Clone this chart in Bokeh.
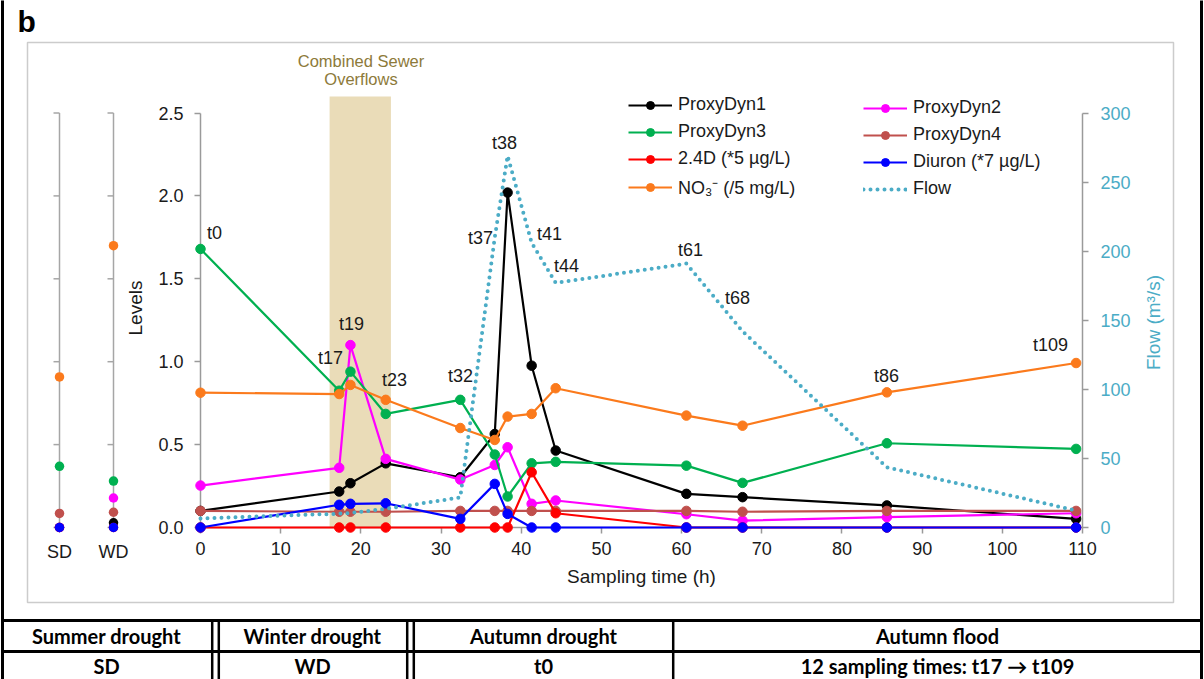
import math
from bokeh.plotting import figure
from bokeh.models import (Range1d, LinearAxis, FixedTicker, NumeralTickFormatter,
                          Legend, LegendItem, BoxAnnotation)
from bokeh.core.properties import value
from bokeh.embed import file_html
from bokeh.resources import INLINE

# ---------------- data ----------------
times = [0, 17.3, 18.7, 23.1, 32.4, 36.7, 38.3, 41.3, 44.3, 60.6, 67.6, 85.6, 109.2]
time_labels = ["t0", "t17", "t19", "t23", "t32", "t37", "t38", "t41", "t44", "t61", "t68", "t86", "t109"]
proxydyn1 = [0.10, 0.217, 0.267, 0.387, 0.303, 0.564, 2.02, 0.976, 0.464, 0.203, 0.183, 0.133, 0.052]
proxydyn2 = [0.253, 0.36, 1.10, 0.414, 0.289, 0.377, 0.484, 0.143, 0.163, 0.08, 0.042, 0.062, 0.086]
proxydyn3 = [1.68, 0.825, 0.94, 0.685, 0.77, 0.44, 0.187, 0.387, 0.396, 0.373, 0.269, 0.508, 0.474]
proxydyn4 = [0.10, 0.095, 0.095, 0.095, 0.10, 0.10, 0.10, 0.10, 0.10, 0.10, 0.095, 0.10, 0.10]
d24 = [0, 0, 0, 0, 0, 0, 0, 0.333, 0.086, 0, 0, 0, 0]
diuron = [0, 0.137, 0.143, 0.146, 0.052, 0.263, 0.082, 0, 0, 0, 0, 0, 0]
no3 = [0.813, 0.805, 0.86, 0.77, 0.60, 0.528, 0.669, 0.685, 0.84, 0.675, 0.614, 0.815, 0.992]
flow = [6.5, 10, 10.5, 13.5, 21.7, 210, 269, 206, 177, 191, 142, 43.6, 12.3]

drought_labels = ["SD", "WD"]
proxydyn1_drought = [0.0, 0.028]
proxydyn2_drought = [0.0, 0.178]
proxydyn3_drought = [0.369, 0.28]
proxydyn4_drought = [0.085, 0.092]
d24_drought = [0.0, 0.0]
diuron_drought = [0.0, 0.0]
no3_drought = [0.908, 1.70]

cso_period = [16.1, 23.75]
level_ticks = [0, 0.5, 1.0, 1.5, 2.0, 2.5]
flow_ticks = [0, 50, 100, 150, 200, 250, 300]
time_ticks = [0, 10, 20, 30, 40, 50, 60, 70, 80, 90, 100, 110]

table_header = ["Summer drought", "Winter drought", "Autumn drought", "Autumn flood"]
table_row = ["SD", "WD", "t0", "12 sampling times: t17 \u2192 t109"]

# ---------------- layout (page pixels) ----------------
W, H = 1204, 679
FL, FR, FT, FB = 200, 1082, 88, 527
LEVEL_TOP_PX = 112.5
PX_PER_LEVEL = (FB - LEVEL_TOP_PX) / 2.5
y_end = (FB - FT) / PX_PER_LEVEL
band_top = (FB - 96) / PX_PER_LEVEL
flow_end = 300 * y_end / 2.5
SD_PX, WD_PX = 59, 113
dpx = WD_PX - SD_PX

FONT = "Liberation Sans"
TFONT = "Lato"
AX_COL = "#9a9a9a"
FLOW_COL = "#4bacc6"
TXT = "#1a1a1a"

p = figure(width=W, height=H, x_range=Range1d(0, 110), y_range=Range1d(0, y_end),
           x_axis_type=None, y_axis_type=None, output_backend="svg",
           toolbar_location=None, title=None,
           min_border_left=FL, min_border_right=W - FR,
           min_border_top=FT, min_border_bottom=H - FB)
p.outline_line_color = None
p.grid.visible = False
p.background_fill_color = "white"
p.border_fill_color = "white"

p.extra_y_ranges = {"flow": Range1d(0, flow_end), "py": Range1d(FB, FT)}
p.extra_x_ranges = {"px": Range1d(FL, FR),
                    "drought": Range1d((FL - SD_PX) / dpx, (FR - SD_PX) / dpx)}


def style_axis(ax, label_color=TXT, std=10, lstd=10):
    ax.axis_line_color = AX_COL
    ax.axis_line_width = 1.5
    ax.major_tick_line_color = AX_COL
    ax.major_tick_line_width = 1.5
    ax.major_tick_out = 6
    ax.major_tick_in = 0
    ax.minor_tick_line_color = None
    ax.major_label_text_font = FONT
    ax.major_label_text_font_size = "18px"
    ax.major_label_text_color = label_color
    ax.major_label_standoff = std
    ax.axis_label_text_font = FONT
    ax.axis_label_text_font_size = "19px"
    ax.axis_label_text_font_style = "normal"
    ax.axis_label_text_color = label_color
    ax.axis_label_standoff = lstd


xaxis = LinearAxis(ticker=FixedTicker(ticks=time_ticks), axis_label="Sampling time (h)", bounds=(0, 110))
style_axis(xaxis, std=8, lstd=8)
p.add_layout(xaxis, "below")

yaxis = LinearAxis(ticker=FixedTicker(ticks=level_ticks), formatter=NumeralTickFormatter(format="0.0"),
                   axis_label="Levels", bounds=(0, 2.5))
style_axis(yaxis, std=11, lstd=9)
p.add_layout(yaxis, "left")

faxis = LinearAxis(y_range_name="flow", ticker=FixedTicker(ticks=flow_ticks), bounds=(0, 300))
style_axis(faxis, label_color=FLOW_COL, std=12, lstd=12)
p.add_layout(faxis, "right")

# combined sewer overflow band
p.add_layout(BoxAnnotation(left=cso_period[0], right=cso_period[1], top=band_top,
                           fill_color="#eadcb8", fill_alpha=1.0, line_color=None, level="underlay"))

# ---------------- decorations (page coordinates) ----------------
kw_px = dict(x_range_name="px", y_range_name="py", level="overlay")
# grey chart box
p.quad(left=[27], right=[1173], top=[42], bottom=[602], fill_color=None,
       line_color="#cccccc", line_width=1.5, **kw_px)
# outer black border + table grid
p.segment(x0=[2, 1201, 2, 2], y0=[0, 0, 620, 651], x1=[2, 1201, 1201, 1201], y1=[679, 679, 620, 651],
          line_color="black", line_width=3, **kw_px)
vx = [211.7, 218.3, 406.7, 413.3, 672.7]
p.segment(x0=vx, y0=[620] * len(vx), x1=vx, y1=[679] * len(vx),
          line_color="black", line_width=2.5, **kw_px)
col_centers = [106, 312, 543, 937]
p.text(x=col_centers, y=[635] * 4, text=table_header, text_align="center", text_baseline="middle",
       text_font=value(TFONT), text_font_style="bold", text_font_size="20px",
       text_color="black", **kw_px)
p.text(x=col_centers, y=[665] * 4, text=table_row, text_align="center", text_baseline="middle",
       text_font=value(TFONT), text_font_style="bold", text_font_size="20px",
       text_color="black", **kw_px)
# panel letter
p.text(x=[17], y=[21], text=["b"], text_align="left", text_baseline="middle",
       text_font=value(FONT), text_font_style="bold", text_font_size="30px", text_color="black", **kw_px)
# CSO label
p.text(x=[360.5, 360.5], y=[60, 78], text=["Combined Sewer", "Overflows"], text_align="center",
       text_baseline="middle", text_font=value(FONT), text_font_size="16.5px", text_color="#8d7a3a", **kw_px)
# flow axis title (reads bottom to top)
p.text(x=[1153], y=[322], text=["Flow (m\u00b3/s)"], angle=math.pi / 2, text_align="center",
       text_baseline="middle", text_font=value(FONT), text_font_size="19px", text_color=FLOW_COL, **kw_px)

# drought mini axes
kw_d = dict(x_range_name="drought", level="overlay")
didx = list(range(len(drought_labels)))
p.segment(x0=didx, y0=[0] * 2, x1=didx, y1=[2.5] * 2, line_color="#a6a6a6", line_width=1.5, **kw_d)
tick_x = [i for i in didx for _ in level_ticks]
tick_y = [t for _ in didx for t in level_ticks]
p.ray(x=tick_x, y=tick_y, length=6, length_units="screen", angle=math.pi,
      line_color="#a6a6a6", line_width=1.5, **kw_d)
p.text(x=didx, y=[551] * 2, text=drought_labels, x_range_name="drought", y_range_name="py",
       level="overlay", text_align="center", text_baseline="middle", text_font=value(FONT),
       text_font_size="18px", text_color=TXT)

# ---------------- series ----------------
series = [
    ("ProxyDyn1", proxydyn1, proxydyn1_drought, "#000000"),
    ("ProxyDyn2", proxydyn2, proxydyn2_drought, "#ff00ff"),
    ("ProxyDyn3", proxydyn3, proxydyn3_drought, "#00b050"),
    ("ProxyDyn4", proxydyn4, proxydyn4_drought, "#c0504d"),
    ("2.4D (*5 \u00b5g/L)", d24, d24_drought, "#ff0000"),
    ("Diuron (*7 \u00b5g/L)", diuron, diuron_drought, "#0000ff"),
    ("NO\u2083\u207b (/5 mg/L)", no3, no3_drought, "#fb7a1c"),
]
items = {}
for name, vals, dvals, col in series:
    rl = p.line(times, vals, line_color=col, line_width=2.2, level="overlay")
    rs = p.scatter(times, vals, size=9.5, fill_color=col, line_color=col, level="overlay")
    # drought points outside the main frame: drawn as round-capped zero-length segments
    p.segment(x0=didx, y0=dvals, x1=didx, y1=dvals, line_color=col, line_width=9.5,
              line_cap="round", **kw_d)
    items[name] = LegendItem(label=name, renderers=[rl, rs])

rf = p.line(times, flow, y_range_name="flow", line_color=FLOW_COL, line_width=4,
            line_dash="0 7", line_cap="round", level="overlay")
items["Flow"] = LegendItem(label="Flow", renderers=[rf])

# sampling time labels (page coordinates)
label_px = [214, 330, 351, 394, 460, 480, 504, 549, 566, 690, 737, 886, 1050]
label_py = [232, 357, 323, 379, 375, 237, 142, 233, 265, 249, 297, 375, 344]
p.text(x=label_px, y=label_py, text=time_labels, text_align="center", text_baseline="middle",
       text_font=value(FONT), text_font_size="18px", text_color=TXT, **kw_px)

# legends
names = [s[0] for s in series]
col1 = [items[names[0]], items[names[2]], items[names[4]], items[names[6]]]
col2 = [items[names[1]], items[names[3]], items[names[5]], items["Flow"]]
for its, xloc in ((col1, 628 - FL), (col2, 863 - FL)):
    leg = Legend(items=its, location=(xloc, FB - 199), orientation="vertical",
                 glyph_width=44, glyph_height=20, label_height=20, spacing=6,
                 padding=0, margin=0, label_standoff=6, border_line_color=None,
                 background_fill_alpha=0, label_text_font=FONT, label_text_font_size="18px",
                 label_text_color=TXT)
    p.add_layout(leg)

open("out.html", "w").write(file_html(p, INLINE))
